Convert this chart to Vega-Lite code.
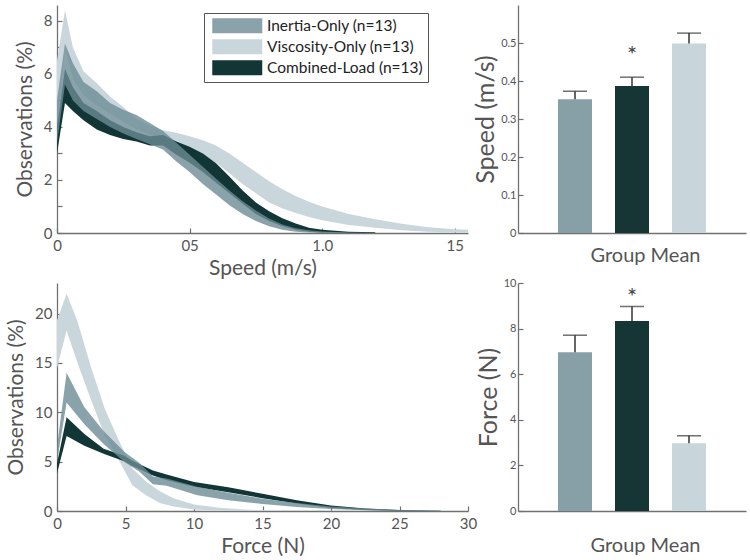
{
  "$schema": "https://vega.github.io/schema/vega-lite/v6.json",
  "background": "white",
  "padding": 5,
  "config": {
    "font": "Lato",
    "view": {"stroke": null},
    "axis": {
      "grid": false,
      "domainColor": "#707070",
      "domainWidth": 1.3,
      "tickColor": "#707070",
      "tickWidth": 1.2,
      "tickSize": -5,
      "labelColor": "#555555",
      "titleColor": "#555555",
      "labelFontSize": 15,
      "titleFontSize": 21,
      "titleFontWeight": "normal",
      "labelFlush": false,
      "labelOverlap": false,
      "labelPadding": 10
    }
  },
  "datasets": {
    "speedBands": [
      {"group": "Viscosity-Only (n=13)", "x": 0, "lo": 4.0, "hi": 6.5},
      {"group": "Viscosity-Only (n=13)", "x": 0.03, "lo": 7.0, "hi": 8.4},
      {"group": "Viscosity-Only (n=13)", "x": 0.06, "lo": 5.8, "hi": 7.0},
      {"group": "Viscosity-Only (n=13)", "x": 0.1, "lo": 5.2, "hi": 6.1},
      {"group": "Viscosity-Only (n=13)", "x": 0.15, "lo": 4.8, "hi": 5.65},
      {"group": "Viscosity-Only (n=13)", "x": 0.2, "lo": 4.5, "hi": 5.15},
      {"group": "Viscosity-Only (n=13)", "x": 0.25, "lo": 4.2, "hi": 4.75},
      {"group": "Viscosity-Only (n=13)", "x": 0.3, "lo": 3.9, "hi": 4.3},
      {"group": "Viscosity-Only (n=13)", "x": 0.35, "lo": 3.7, "hi": 4.05},
      {"group": "Viscosity-Only (n=13)", "x": 0.4, "lo": 3.5, "hi": 3.88},
      {"group": "Viscosity-Only (n=13)", "x": 0.45, "lo": 3.35, "hi": 3.78},
      {"group": "Viscosity-Only (n=13)", "x": 0.5, "lo": 3.2, "hi": 3.65},
      {"group": "Viscosity-Only (n=13)", "x": 0.55, "lo": 2.95, "hi": 3.5},
      {"group": "Viscosity-Only (n=13)", "x": 0.6, "lo": 2.65, "hi": 3.3},
      {"group": "Viscosity-Only (n=13)", "x": 0.65, "lo": 2.25, "hi": 3.0},
      {"group": "Viscosity-Only (n=13)", "x": 0.7, "lo": 1.85, "hi": 2.65},
      {"group": "Viscosity-Only (n=13)", "x": 0.75, "lo": 1.5, "hi": 2.3},
      {"group": "Viscosity-Only (n=13)", "x": 0.8, "lo": 1.15, "hi": 1.95},
      {"group": "Viscosity-Only (n=13)", "x": 0.85, "lo": 0.92, "hi": 1.65},
      {"group": "Viscosity-Only (n=13)", "x": 0.9, "lo": 0.75, "hi": 1.4},
      {"group": "Viscosity-Only (n=13)", "x": 0.95, "lo": 0.6, "hi": 1.18},
      {"group": "Viscosity-Only (n=13)", "x": 1.0, "lo": 0.48, "hi": 1.0},
      {"group": "Viscosity-Only (n=13)", "x": 1.1, "lo": 0.3, "hi": 0.72},
      {"group": "Viscosity-Only (n=13)", "x": 1.2, "lo": 0.2, "hi": 0.52},
      {"group": "Viscosity-Only (n=13)", "x": 1.3, "lo": 0.1, "hi": 0.35},
      {"group": "Viscosity-Only (n=13)", "x": 1.4, "lo": 0.05, "hi": 0.22},
      {"group": "Viscosity-Only (n=13)", "x": 1.5, "lo": 0.02, "hi": 0.14},
      {"group": "Viscosity-Only (n=13)", "x": 1.55, "lo": 0.02, "hi": 0.12},
      {"group": "Combined-Load (n=13)", "x": 0, "lo": 3.0, "hi": 4.0},
      {"group": "Combined-Load (n=13)", "x": 0.03, "lo": 4.9, "hi": 6.2},
      {"group": "Combined-Load (n=13)", "x": 0.06, "lo": 4.6, "hi": 5.5},
      {"group": "Combined-Load (n=13)", "x": 0.1, "lo": 4.25, "hi": 4.9},
      {"group": "Combined-Load (n=13)", "x": 0.15, "lo": 3.9, "hi": 4.6},
      {"group": "Combined-Load (n=13)", "x": 0.2, "lo": 3.7, "hi": 4.25},
      {"group": "Combined-Load (n=13)", "x": 0.25, "lo": 3.55, "hi": 4.0},
      {"group": "Combined-Load (n=13)", "x": 0.3, "lo": 3.45, "hi": 3.8},
      {"group": "Combined-Load (n=13)", "x": 0.35, "lo": 3.3, "hi": 3.65},
      {"group": "Combined-Load (n=13)", "x": 0.4, "lo": 3.3, "hi": 3.7},
      {"group": "Combined-Load (n=13)", "x": 0.45, "lo": 2.95, "hi": 3.45},
      {"group": "Combined-Load (n=13)", "x": 0.5, "lo": 2.65, "hi": 3.25},
      {"group": "Combined-Load (n=13)", "x": 0.55, "lo": 2.3, "hi": 3.0},
      {"group": "Combined-Load (n=13)", "x": 0.6, "lo": 1.9, "hi": 2.63},
      {"group": "Combined-Load (n=13)", "x": 0.65, "lo": 1.5, "hi": 2.13},
      {"group": "Combined-Load (n=13)", "x": 0.7, "lo": 1.1, "hi": 1.6},
      {"group": "Combined-Load (n=13)", "x": 0.75, "lo": 0.72, "hi": 1.15},
      {"group": "Combined-Load (n=13)", "x": 0.8, "lo": 0.45, "hi": 0.82},
      {"group": "Combined-Load (n=13)", "x": 0.85, "lo": 0.25, "hi": 0.56},
      {"group": "Combined-Load (n=13)", "x": 0.9, "lo": 0.12, "hi": 0.36},
      {"group": "Combined-Load (n=13)", "x": 0.95, "lo": 0.05, "hi": 0.2},
      {"group": "Combined-Load (n=13)", "x": 1.0, "lo": 0.02, "hi": 0.12},
      {"group": "Combined-Load (n=13)", "x": 1.1, "lo": 0.0, "hi": 0.05},
      {"group": "Combined-Load (n=13)", "x": 1.2, "lo": 0.0, "hi": 0.03},
      {"group": "Inertia-Only (n=13)", "x": 0, "lo": 3.4, "hi": 5.0},
      {"group": "Inertia-Only (n=13)", "x": 0.03, "lo": 5.6, "hi": 7.15},
      {"group": "Inertia-Only (n=13)", "x": 0.06, "lo": 5.0, "hi": 6.4},
      {"group": "Inertia-Only (n=13)", "x": 0.1, "lo": 4.6, "hi": 5.7},
      {"group": "Inertia-Only (n=13)", "x": 0.15, "lo": 4.3, "hi": 5.35},
      {"group": "Inertia-Only (n=13)", "x": 0.2, "lo": 4.0, "hi": 4.9},
      {"group": "Inertia-Only (n=13)", "x": 0.25, "lo": 3.75, "hi": 4.65},
      {"group": "Inertia-Only (n=13)", "x": 0.3, "lo": 3.55, "hi": 4.45},
      {"group": "Inertia-Only (n=13)", "x": 0.35, "lo": 3.35, "hi": 4.15},
      {"group": "Inertia-Only (n=13)", "x": 0.4, "lo": 3.15, "hi": 3.85},
      {"group": "Inertia-Only (n=13)", "x": 0.45, "lo": 2.7, "hi": 3.4},
      {"group": "Inertia-Only (n=13)", "x": 0.5, "lo": 2.3, "hi": 2.95},
      {"group": "Inertia-Only (n=13)", "x": 0.55, "lo": 1.85, "hi": 2.5},
      {"group": "Inertia-Only (n=13)", "x": 0.6, "lo": 1.45, "hi": 2.05},
      {"group": "Inertia-Only (n=13)", "x": 0.65, "lo": 1.05, "hi": 1.6},
      {"group": "Inertia-Only (n=13)", "x": 0.7, "lo": 0.72, "hi": 1.2},
      {"group": "Inertia-Only (n=13)", "x": 0.75, "lo": 0.45, "hi": 0.85},
      {"group": "Inertia-Only (n=13)", "x": 0.8, "lo": 0.25, "hi": 0.55},
      {"group": "Inertia-Only (n=13)", "x": 0.85, "lo": 0.12, "hi": 0.32},
      {"group": "Inertia-Only (n=13)", "x": 0.9, "lo": 0.05, "hi": 0.18},
      {"group": "Inertia-Only (n=13)", "x": 0.95, "lo": 0.02, "hi": 0.1},
      {"group": "Inertia-Only (n=13)", "x": 1.0, "lo": 0.0, "hi": 0.06},
      {"group": "Inertia-Only (n=13)", "x": 1.1, "lo": 0.0, "hi": 0.02},
      {"group": "Inertia-Only (n=13)", "x": 1.2, "lo": 0.0, "hi": 0.01}
    ],
    "forceBands": [
      {"group": "Viscosity-Only (n=13)", "x": 0, "lo": 14.5, "hi": 19.3},
      {"group": "Viscosity-Only (n=13)", "x": 0.7, "lo": 18.3, "hi": 22.0},
      {"group": "Viscosity-Only (n=13)", "x": 1.5, "lo": 15.0, "hi": 19.2},
      {"group": "Viscosity-Only (n=13)", "x": 2.5, "lo": 11.2, "hi": 14.5},
      {"group": "Viscosity-Only (n=13)", "x": 3.5, "lo": 7.6, "hi": 10.3},
      {"group": "Viscosity-Only (n=13)", "x": 4.5, "lo": 5.2, "hi": 7.2},
      {"group": "Viscosity-Only (n=13)", "x": 5.5, "lo": 2.6, "hi": 4.3},
      {"group": "Viscosity-Only (n=13)", "x": 6.5, "lo": 1.6, "hi": 3.0},
      {"group": "Viscosity-Only (n=13)", "x": 7.5, "lo": 0.8, "hi": 2.0},
      {"group": "Viscosity-Only (n=13)", "x": 8.5, "lo": 0.45, "hi": 1.3},
      {"group": "Viscosity-Only (n=13)", "x": 10, "lo": 0.15, "hi": 0.65},
      {"group": "Viscosity-Only (n=13)", "x": 12, "lo": 0.03, "hi": 0.3},
      {"group": "Viscosity-Only (n=13)", "x": 14, "lo": 0, "hi": 0.12},
      {"group": "Viscosity-Only (n=13)", "x": 17, "lo": 0, "hi": 0.05},
      {"group": "Viscosity-Only (n=13)", "x": 20, "lo": 0, "hi": 0.02},
      {"group": "Viscosity-Only (n=13)", "x": 23, "lo": 0, "hi": 0.01},
      {"group": "Combined-Load (n=13)", "x": 0, "lo": 3.8, "hi": 4.8},
      {"group": "Combined-Load (n=13)", "x": 0.7, "lo": 7.6, "hi": 9.5},
      {"group": "Combined-Load (n=13)", "x": 2, "lo": 6.6, "hi": 7.8},
      {"group": "Combined-Load (n=13)", "x": 3.4, "lo": 5.8, "hi": 6.3},
      {"group": "Combined-Load (n=13)", "x": 4.9, "lo": 5.05, "hi": 5.6},
      {"group": "Combined-Load (n=13)", "x": 5.5, "lo": 4.55, "hi": 5.1},
      {"group": "Combined-Load (n=13)", "x": 7, "lo": 3.6, "hi": 4.1},
      {"group": "Combined-Load (n=13)", "x": 8, "lo": 3.15, "hi": 3.7},
      {"group": "Combined-Load (n=13)", "x": 10, "lo": 2.45, "hi": 2.95},
      {"group": "Combined-Load (n=13)", "x": 12.5, "lo": 1.9, "hi": 2.4},
      {"group": "Combined-Load (n=13)", "x": 15, "lo": 1.3, "hi": 1.75},
      {"group": "Combined-Load (n=13)", "x": 17.5, "lo": 0.75, "hi": 1.1},
      {"group": "Combined-Load (n=13)", "x": 20, "lo": 0.3, "hi": 0.55},
      {"group": "Combined-Load (n=13)", "x": 22.5, "lo": 0.1, "hi": 0.25},
      {"group": "Combined-Load (n=13)", "x": 25, "lo": 0.03, "hi": 0.1},
      {"group": "Combined-Load (n=13)", "x": 28, "lo": 0, "hi": 0.03},
      {"group": "Inertia-Only (n=13)", "x": 0, "lo": 5.0, "hi": 6.5},
      {"group": "Inertia-Only (n=13)", "x": 0.7, "lo": 11.0, "hi": 14.0},
      {"group": "Inertia-Only (n=13)", "x": 2, "lo": 8.8, "hi": 10.5},
      {"group": "Inertia-Only (n=13)", "x": 3.4, "lo": 6.8, "hi": 8.1},
      {"group": "Inertia-Only (n=13)", "x": 4.9, "lo": 5.0, "hi": 6.0},
      {"group": "Inertia-Only (n=13)", "x": 6, "lo": 4.0, "hi": 4.9},
      {"group": "Inertia-Only (n=13)", "x": 7, "lo": 2.7, "hi": 3.5},
      {"group": "Inertia-Only (n=13)", "x": 8, "lo": 2.55, "hi": 3.3},
      {"group": "Inertia-Only (n=13)", "x": 10.25, "lo": 1.6, "hi": 2.45},
      {"group": "Inertia-Only (n=13)", "x": 12.5, "lo": 1.1, "hi": 1.85},
      {"group": "Inertia-Only (n=13)", "x": 15, "lo": 0.7, "hi": 1.25},
      {"group": "Inertia-Only (n=13)", "x": 17.5, "lo": 0.4, "hi": 0.8},
      {"group": "Inertia-Only (n=13)", "x": 20, "lo": 0.2, "hi": 0.45},
      {"group": "Inertia-Only (n=13)", "x": 22.5, "lo": 0.08, "hi": 0.25},
      {"group": "Inertia-Only (n=13)", "x": 25, "lo": 0.02, "hi": 0.1},
      {"group": "Inertia-Only (n=13)", "x": 28, "lo": 0, "hi": 0.03}
    ],
    "means": [
      {"measure": "speed", "group": "Inertia", "mean": 0.352, "err": 0.373, "star": null},
      {"measure": "speed", "group": "Combined", "mean": 0.387, "err": 0.41, "star": 0.465},
      {"measure": "speed", "group": "Viscosity", "mean": 0.499, "err": 0.526, "star": null},
      {"measure": "force", "group": "Inertia", "mean": 6.96, "err": 7.71, "star": null},
      {"measure": "force", "group": "Combined", "mean": 8.33, "err": 8.97, "star": 9.35},
      {"measure": "force", "group": "Viscosity", "mean": 2.97, "err": 3.3, "star": null}
    ]
  },
  "columns": 2,
  "align": "each",
  "bounds": "flush",
  "spacing": 50,
  "resolve": {"scale": {"color": "independent", "x": "independent", "y": "independent"}, "legend": {"color": "independent"}},
  "concat": [
    {
      "width": 411,
      "height": 228,
      "data": {"name": "speedBands"},
      "encoding": {
        "x": {"field": "x", "type": "quantitative", "scale": {"domain": [0, 1.55], "nice": false},
          "axis": {"title": "Speed (m/s)", "values": [0, 0.5, 1, 1.5],
            "labelExpr": "datum.value == 0 ? '0' : datum.value == 0.5 ? '05' : datum.value == 1 ? '1.0' : '15'",
            "titlePadding": 4}},
        "y": {"field": "lo", "type": "quantitative", "scale": {"domain": [0, 8.6], "nice": false},
          "axis": {"title": "Observations (%)", "values": [0, 1, 2, 3, 4, 5, 6, 7, 8],
            "labelExpr": "datum.value % 2 == 0 ? datum.label : ''", "titlePadding": 8}},
        "y2": {"field": "hi"}
      },
      "layer": [
        {
          "transform": [{"filter": "datum.group == 'Viscosity-Only (n=13)'"}],
          "mark": {"type": "area", "interpolate": "linear"},
          "encoding": {
            "color": {"field": "group", "type": "nominal",
              "scale": {"domain": ["Inertia-Only (n=13)", "Viscosity-Only (n=13)", "Combined-Load (n=13)"], "range": ["#8aa3ab", "#c9d7dd", "#123535"]},
              "legend": {"orient": "none", "legendX": 147, "legendY": 8, "title": null, "direction": "vertical",
                "symbolType": "M-3.333,-1H3.333V1H-3.333Z", "symbolSize": 225, "symbolStrokeWidth": 0, "symbolOpacity": 1,
                "symbolOffset": 20.5,
                "labelFontSize": 15.5, "labelColor": "#222222", "labelLimit": 400, "labelOffset": 22,
                "rowPadding": 4, "padding": 5, "strokeColor": "#555555", "fillColor": "#ffffff"}}
          }
        },
        {
          "transform": [{"filter": "datum.group == 'Combined-Load (n=13)'"}],
          "mark": {"type": "area", "interpolate": "linear"},
          "encoding": {
            "color": {"field": "group", "type": "nominal",
              "scale": {"domain": ["Inertia-Only (n=13)", "Viscosity-Only (n=13)", "Combined-Load (n=13)"], "range": ["#8aa3ab", "#c9d7dd", "#123535"]}}
          }
        },
        {
          "transform": [{"filter": "datum.group == 'Inertia-Only (n=13)'"}],
          "mark": {"type": "area", "interpolate": "linear", "color": "#6d8c96", "opacity": 0.8},
          "encoding": {}
        }
      ]
    },
    {
      "width": 228,
      "height": 228,
      "data": {"name": "means"},
      "transform": [{"filter": "datum.measure == 'speed'"}],
      "encoding": {
        "x": {"field": "group", "type": "nominal", "sort": ["Inertia", "Combined", "Viscosity"],
          "scale": {"paddingInner": 0.4035, "paddingOuter": 0.70175},
          "axis": {"title": "Group Mean", "labels": false, "ticks": false, "titlePadding": 12, "titleFontSize": 20, "titleX": 127}}
      },
      "layer": [
        {
          "mark": {"type": "bar"},
          "encoding": {
            "y": {"field": "mean", "type": "quantitative", "scale": {"domain": [0, 0.6], "nice": false},
              "axis": {"title": "Speed (m/s)", "titleFontSize": 25, "values": [0, 0.1, 0.2, 0.3, 0.4, 0.5], "labelFontSize": 11,
                "labelExpr": "datum.value == 0 ? '0' : format(datum.value, '.1f')", "labelPadding": 7, "titlePadding": 2}},
            "color": {"field": "group", "type": "nominal", "scale": {"domain": ["Inertia", "Combined", "Viscosity"], "range": ["#87a0a8", "#163535", "#c8d6dc"]}, "legend": null}
          }
        },
        {
          "mark": {"type": "rule", "color": "#333333", "strokeWidth": 1.5},
          "encoding": {"y": {"field": "mean", "type": "quantitative"}, "y2": {"field": "err"}}
        },
        {
          "mark": {"type": "tick", "color": "#333333", "thickness": 1.5, "size": 24},
          "encoding": {"y": {"field": "err", "type": "quantitative"}}
        },
        {
          "transform": [{"filter": "datum.star != null"}],
          "mark": {"type": "text", "text": "*", "fontSize": 24, "color": "#444444"},
          "encoding": {"y": {"field": "star", "type": "quantitative"}}
        }
      ]
    },
    {
      "width": 411,
      "height": 228,
      "data": {"name": "forceBands"},
      "encoding": {
        "x": {"field": "x", "type": "quantitative", "scale": {"domain": [0, 30], "nice": false},
          "axis": {"title": "Force (N)", "values": [0, 5, 10, 15, 20, 25, 30], "titlePadding": 4}},
        "y": {"field": "lo", "type": "quantitative", "scale": {"domain": [0, 23.1], "nice": false},
          "axis": {"title": "Observations (%)", "values": [0, 5, 10, 15, 20], "titlePadding": 8}},
        "y2": {"field": "hi"}
      },
      "layer": [
        {
          "transform": [{"filter": "datum.group == 'Viscosity-Only (n=13)'"}],
          "mark": {"type": "area", "interpolate": "linear"},
          "encoding": {
            "color": {"field": "group", "type": "nominal",
              "scale": {"domain": ["Inertia-Only (n=13)", "Viscosity-Only (n=13)", "Combined-Load (n=13)"], "range": ["#8aa3ab", "#c9d7dd", "#123535"]},
              "legend": null}
          }
        },
        {
          "transform": [{"filter": "datum.group == 'Combined-Load (n=13)'"}],
          "mark": {"type": "area", "interpolate": "linear"},
          "encoding": {
            "color": {"field": "group", "type": "nominal",
              "scale": {"domain": ["Inertia-Only (n=13)", "Viscosity-Only (n=13)", "Combined-Load (n=13)"], "range": ["#8aa3ab", "#c9d7dd", "#123535"]},
              "legend": null}
          }
        },
        {
          "transform": [{"filter": "datum.group == 'Inertia-Only (n=13)'"}],
          "mark": {"type": "area", "interpolate": "linear", "color": "#6d8c96", "opacity": 0.8},
          "encoding": {}
        }
      ]
    },
    {
      "width": 228,
      "height": 228,
      "data": {"name": "means"},
      "transform": [{"filter": "datum.measure == 'force'"}],
      "encoding": {
        "x": {"field": "group", "type": "nominal", "sort": ["Inertia", "Combined", "Viscosity"],
          "scale": {"paddingInner": 0.4035, "paddingOuter": 0.70175},
          "axis": {"title": "Group Mean", "labels": false, "ticks": false, "titlePadding": 24, "titleFontSize": 20, "titleX": 127}}
      },
      "layer": [
        {
          "mark": {"type": "bar"},
          "encoding": {
            "y": {"field": "mean", "type": "quantitative", "scale": {"domain": [0, 10], "nice": false},
              "axis": {"title": "Force (N)", "titleFontSize": 25, "values": [0, 1, 2, 3, 4, 5, 6, 7, 8, 9, 10], "labelFontSize": 11,
                "labelExpr": "datum.value % 2 == 0 ? datum.label : ''", "labelPadding": 7, "titlePadding": 2}},
            "color": {"field": "group", "type": "nominal", "scale": {"domain": ["Inertia", "Combined", "Viscosity"], "range": ["#87a0a8", "#163535", "#c8d6dc"]}, "legend": null}
          }
        },
        {
          "mark": {"type": "rule", "color": "#333333", "strokeWidth": 1.5},
          "encoding": {"y": {"field": "mean", "type": "quantitative"}, "y2": {"field": "err"}}
        },
        {
          "mark": {"type": "tick", "color": "#333333", "thickness": 1.5, "size": 24},
          "encoding": {"y": {"field": "err", "type": "quantitative"}}
        },
        {
          "transform": [{"filter": "datum.star != null"}],
          "mark": {"type": "text", "text": "*", "fontSize": 24, "color": "#444444"},
          "encoding": {"y": {"field": "star", "type": "quantitative"}}
        }
      ]
    }
  ]
}
